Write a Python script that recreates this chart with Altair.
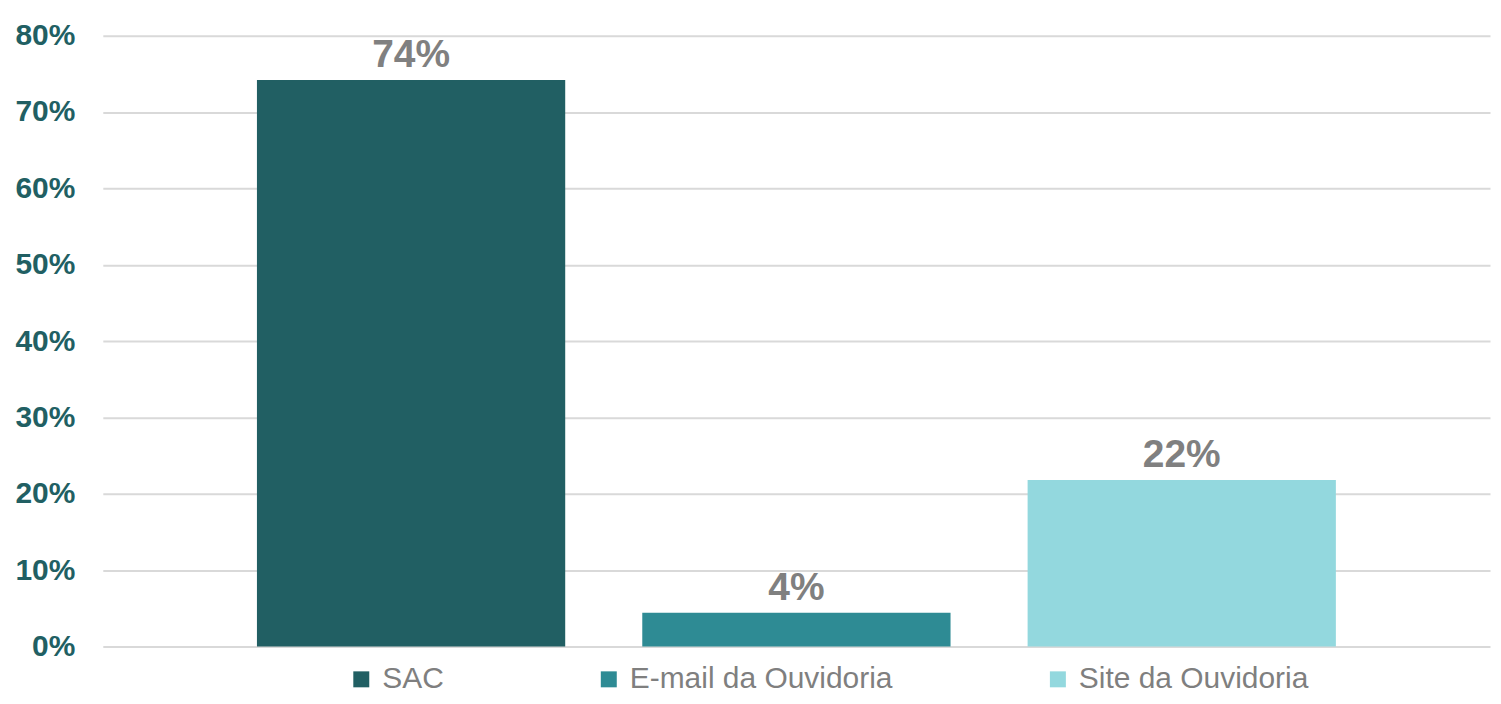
import altair as alt
import pandas as pd

categories = ["SAC", "E-mail da Ouvidoria", "Site da Ouvidoria"]
shares = [0.742, 0.044, 0.218]
colors = ["#215F63", "#2E8B94", "#93D8DE"]
y_ticks = [0, 0.1, 0.2, 0.3, 0.4, 0.5, 0.6, 0.7, 0.8]

df = pd.DataFrame({"canal": categories, "valor": shares})

FONT = "Liberation Sans, Arial, sans-serif"

x = alt.X("canal:N", sort=categories, axis=None,
          scale=alt.Scale(paddingInner=0.2, paddingOuter=0.4))
y = alt.Y("valor:Q",
          scale=alt.Scale(domain=[0, 0.8], nice=False),
          axis=alt.Axis(values=y_ticks, format=".0%", title=None,
                        domain=False, ticks=False, labelPadding=28,
                        labelFont=FONT, labelFontSize=30, labelFontWeight="bold",
                        labelColor="#215F63", gridColor="#D9D9D9", gridWidth=2))

bars = alt.Chart(df).mark_bar().encode(
    x=x, y=y,
    color=alt.Color("canal:N", sort=categories,
                    scale=alt.Scale(domain=categories, range=colors),
                    legend=alt.Legend(title=None, orient="none", direction="horizontal",
                                      legendX=244, legendY=630,
                                      symbolType="square", symbolSize=256,
                                      symbolStrokeWidth=0, symbolOpacity=1,
                                      labelFont=FONT, labelFontSize=30,
                                      labelColor="#7F7F7F", labelOffset=6,
                                      columnPadding=150, labelLimit=0))
)

labels = alt.Chart(df).mark_text(
    font=FONT, fontSize=39, fontWeight="bold", color="#808080",
    baseline="alphabetic", dy=-13
).encode(
    x=alt.X("canal:N", sort=categories, axis=None),
    y=alt.Y("valor:Q"),
    text=alt.Text("valor:Q", format=".0%"),
)

chart = (bars + labels).properties(
    width=1390, height=612,
    autosize=alt.AutoSizeParams(type="none"),
    padding={"left": 95, "top": 27, "right": 3, "bottom": 47},
).configure_view(stroke=None)

chart.save("out.html", embed_options={"renderer": "svg", "actions": False})
